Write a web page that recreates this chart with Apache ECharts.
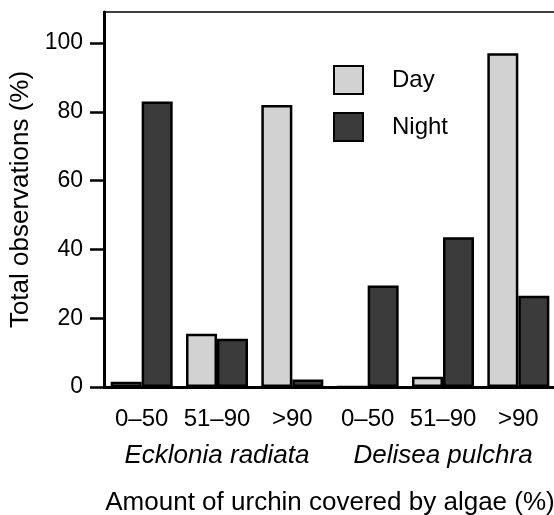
<!DOCTYPE html>
<html>
<head>
<meta charset="utf-8">
<script src="https://cdn.jsdelivr.net/npm/echarts@6/dist/echarts.min.js"></script>
<style>html,body{margin:0;padding:0;background:#fff;}#c{width:554px;height:515px;}</style>
</head>
<body>
<div id="c"></div>
<script>
const categories = ['0\u201350', '51\u201390', '>90', '0\u201350', '51\u201390', '>90'];
const species = ['Ecklonia radiata', 'Delisea pulchra'];
const dayValues = [1.5, 15.5, 82, 0, 3, 97];
const nightValues = [83, 14, 2.2, 29.5, 43.5, 26.5];
const yTicks = [0, 20, 40, 60, 80, 100];

const FONT = '"Liberation Sans", Arial, Helvetica, sans-serif';
const chart = echarts.init(document.getElementById('c'), null, {renderer: 'canvas'});
chart.setOption({
  animation: false,
  backgroundColor: '#fff',
  textStyle: {fontFamily: FONT, color: '#000'},
  grid: {left: 104, right: -2, top: 12, bottom: 128, show: true, borderColor: '#000', borderWidth: 1.5,
         backgroundColor: 'transparent', outerBoundsMode: 'none', containLabel: false},
  legend: {
    orient: 'vertical', left: 328, top: 60,
    icon: 'rect',
    itemWidth: 29, itemHeight: 28, itemGap: 17,
    textStyle: {fontSize: 24, color: '#000', fontFamily: FONT, padding: [0, 0, 0, 24]},
    data: ['Day', 'Night']
  },
  xAxis: [
    {
      type: 'category', data: categories, position: 'bottom',
      axisLine: {lineStyle: {color: '#000', width: 3}},
      axisTick: {alignWithLabel: true, length: 12, lineStyle: {color: '#000', width: 3}},
      axisLabel: {fontSize: 24, color: '#000', margin: 20, fontFamily: FONT, interval: 0}
    },
    {
      type: 'category', data: species, position: 'bottom',
      axisLine: {show: false}, axisTick: {show: false},
      axisLabel: {fontSize: 26, fontStyle: 'italic', color: '#000', margin: 56, fontFamily: FONT, interval: 0, hideOverlap: false},
      name: 'Amount of urchin covered by algae (%)', nameLocation: 'middle', nameGap: 103,
      nameTextStyle: {fontSize: 26, color: '#000', fontFamily: FONT}
    }
  ],
  yAxis: {
    type: 'value', min: 0, max: 109, interval: 20,
    axisLine: {show: true, lineStyle: {color: '#000', width: 3}},
    axisTick: {show: true, length: 14, lineStyle: {color: '#000', width: 2.5}, customValues: yTicks},
    axisLabel: {fontSize: 23, color: '#000', margin: 21, fontFamily: FONT, customValues: yTicks},
    splitLine: {show: false},
    name: 'Total observations (%)', nameLocation: 'middle', nameGap: 66,
    nameTextStyle: {fontSize: 26, color: '#000', fontFamily: FONT}
  },
  series: [
    {name: 'Day', type: 'bar', xAxisIndex: 0, data: dayValues, barWidth: 31, barGap: '0%',
     itemStyle: {color: '#d2d2d2', borderColor: '#000', borderWidth: 2.5}},
    {name: 'Night', type: 'bar', xAxisIndex: 0, data: nightValues, barWidth: 31, barGap: '0%',
     itemStyle: {color: '#3b3b3b', borderColor: '#000', borderWidth: 2.5}}
  ]
});
</script>
</body>
</html>
